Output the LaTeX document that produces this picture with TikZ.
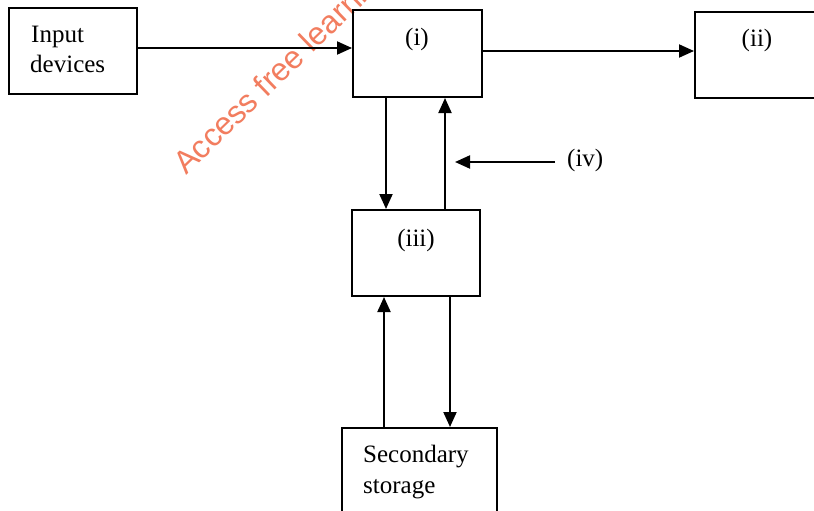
\documentclass[tikz,border=0pt]{standalone}
\usepackage{fontspec}
\setmainfont{Liberation Serif}
\newfontfamily\wmfont{Liberation Sans}
\usetikzlibrary{arrows.meta}
\definecolor{wmcol}{RGB}{242,125,95}
\begin{document}
\begin{tikzpicture}[x=1pt,y=-1pt,
  box/.style={draw,line width=2pt,inner sep=0pt},
  txt/.style={font=\fontsize{25}{30}\selectfont,inner sep=0pt},
  arr/.style={line width=2pt,-{Triangle[length=15pt,width=13pt]}},
  wm/.style={font=\wmfont\fontsize{32}{36}\selectfont,text=wmcol,inner sep=0pt}]
\useasboundingbox (0,0) rectangle (814,511);
\fill[white] (0,0) rectangle (814,511);
% watermark
\node[wm,anchor=base west,rotate=44] (wmark) at (186,176) {Access free learni};
% boxes
\node[box,minimum width=128pt,minimum height=86pt] (in) at (73,51) {};
\node[box,minimum width=129pt,minimum height=87pt] (i) at (417.5,53.5) {};
\node[box,minimum width=135pt,minimum height=86pt] (ii) at (762.5,55) {};
\node[box,minimum width=128pt,minimum height=86pt] (iii) at (416,253) {};
\node[box,minimum width=155pt,minimum height=102pt] (st) at (419.5,479) {};
% labels
\node[txt,anchor=base west] (in1) at (31,43) {Input};
\node[txt,anchor=base west] (in2) at (30,73) {devices};
\node[txt,anchor=base] (li) at (417,46) {(i)};
\node[txt,anchor=base] (lii) at (757,47) {(ii)};
\node[txt,anchor=base] (liii) at (416,246) {(iii)};
\node[txt,anchor=base west] (st1) at (363,462) {Secondary};
\node[txt,anchor=base west] (st2) at (363,493) {storage};
\node[txt,anchor=base west] (liv) at (567,166) {(iv)};
\coordinate (ivend) at (455,162);
% connectors
\draw[arr] ([yshift=3pt]in.east) -- ([yshift=3pt]in.east -| i.west);
\draw[arr] ([yshift=2.5pt]i.east) -- ([yshift=2.5pt]i.east -| ii.west);
\draw[arr] ([xshift=-31.5pt]i.south) -- ([xshift=-31.5pt]i.south |- iii.north);
\draw[arr] ([xshift=29pt]iii.north) -- ([xshift=29pt]iii.north |- i.south);
\draw[arr] ([xshift=-12pt]liv.west |- ivend) -- (ivend);
\draw[arr] ([xshift=-35.5pt]st.north) -- ([xshift=-35.5pt]st.north |- iii.south);
\draw[arr] ([xshift=34pt]iii.south) -- ([xshift=34pt]iii.south |- st.north);
\end{tikzpicture}
\end{document}
